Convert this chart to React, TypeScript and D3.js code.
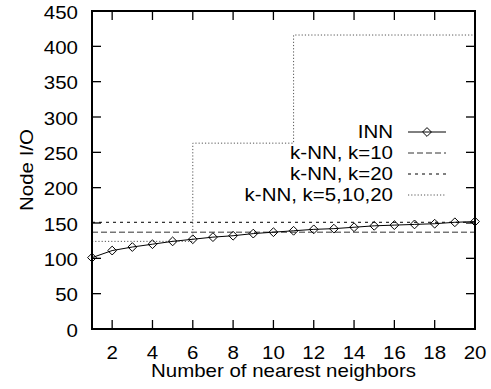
import { useEffect, useRef } from 'react'
import * as d3 from 'd3'

const neighbors = [1, 2, 3, 4, 5, 6, 7, 8, 9, 10, 11, 12, 13, 14, 15, 16, 17, 18, 19, 20]
const innIO = [101, 111, 116, 120, 124, 127, 130, 132, 135, 137, 139, 141, 142, 144, 146, 147, 148, 149, 151, 152]
const knn10IO = [137, 137]
const knn20IO = [151, 151]
const knnSpan = [1, 20]
// k-NN with k growing 5 -> 10 -> 20 (step line)
const knnStepX = [1, 6, 11, 20]
const knnStepIO = [124, 263, 416, 416]
const xTicks = [2, 4, 6, 8, 10, 12, 14, 16, 18, 20]
const yTicks = [0, 50, 100, 150, 200, 250, 300, 350, 400, 450]
const legendLabels = ['INN', 'k-NN, k=10', 'k-NN, k=20', 'k-NN, k=5,10,20']

const FONT = '"Liberation Sans", Arial, sans-serif'
const FS = 17.5
const SX = 1.17

export default function App() {
  const svgRef = useRef<SVGSVGElement>(null)

  useEffect(() => {
    if (!svgRef.current) return
    const svg = d3.select(svgRef.current)
    svg.selectAll('*').remove()

    const width = 491
    const height = 389
    const margin = { top: 11, right: 16, bottom: 60, left: 92 }

    const x = d3.scaleLinear().domain([1, 20]).range([margin.left, width - margin.right])
    const y = d3.scaleLinear().domain([0, 450]).range([height - margin.bottom, margin.top])
    const [x0, x1] = x.range()
    const [y0, y1] = y.range()

    svg.attr('width', width).attr('height', height)
    svg.append('rect').attr('width', width).attr('height', height).attr('fill', '#fff')

    const label = (tx: number, ty: number, s: string, anchor: string, rotate = 0) =>
      svg.append('text')
        .attr('transform', `translate(${tx},${ty}) rotate(${rotate}) scale(${SX},1)`)
        .attr('text-anchor', anchor)
        .attr('font-family', FONT)
        .attr('font-size', FS)
        .attr('fill', '#000')
        .text(s)

    // ticks (mirrored, pointing inward)
    const tickLen = 9
    const ticks = svg.append('g').attr('stroke', '#000').attr('stroke-width', 1.3)
    yTicks.forEach(v => {
      ticks.append('line').attr('x1', x0).attr('x2', x0 + tickLen).attr('y1', y(v)).attr('y2', y(v))
      ticks.append('line').attr('x1', x1).attr('x2', x1 - tickLen).attr('y1', y(v)).attr('y2', y(v))
      label(x0 - 14, y(v) + 7.5, String(v), 'end')
    })
    xTicks.forEach(v => {
      ticks.append('line').attr('x1', x(v)).attr('x2', x(v)).attr('y1', y0).attr('y2', y0 - tickLen)
      ticks.append('line').attr('x1', x(v)).attr('x2', x(v)).attr('y1', y1).attr('y2', y1 + tickLen)
      label(x(v), 358.5, String(v), 'middle')
    })

    // axis titles
    label((x0 + x1) / 2, 377, 'Number of nearest neighbors', 'middle')
    label(33, (y0 + y1) / 2, 'Node I/O', 'middle', -90)

    const line = d3.line<[number, number]>().x(d => x(d[0])).y(d => y(d[1]))

    // k-NN series
    const styles = [
      { pts: knnSpan.map((k, i) => [k, knn10IO[i]] as [number, number]), dash: '6,3', color: '#333', curve: d3.curveLinear },
      { pts: knnSpan.map((k, i) => [k, knn20IO[i]] as [number, number]), dash: '3,4', color: '#000', curve: d3.curveLinear },
      { pts: knnStepX.map((k, i) => [k, knnStepIO[i]] as [number, number]), dash: '1.2,2', color: '#555', curve: d3.curveStepAfter },
    ]
    styles.forEach(s => {
      svg.append('path')
        .attr('d', line.curve(s.curve)(s.pts))
        .attr('fill', 'none')
        .attr('stroke', s.color)
        .attr('stroke-width', 1)
        .attr('stroke-dasharray', s.dash)
    })
    line.curve(d3.curveLinear)

    // INN series
    const innPts = neighbors.map((k, i) => [k, innIO[i]] as [number, number])
    svg.append('path')
      .attr('d', line(innPts))
      .attr('fill', 'none')
      .attr('stroke', '#000')
      .attr('stroke-width', 1)
    const diamond = (cx: number, cy: number) =>
      svg.append('path')
        .attr('d', `M${cx},${cy - 4.4}L${cx + 4.4},${cy}L${cx},${cy + 4.4}L${cx - 4.4},${cy}Z`)
        .attr('fill', 'none')
        .attr('stroke', '#000')
        .attr('stroke-width', 1)
    innPts.forEach(d => diamond(x(d[0]), y(d[1])))

    // legend
    const lx0 = 408
    const lx1 = 446
    const rowY = [132, 153, 174, 195]
    legendLabels.forEach((t, i) => {
      label(393, rowY[i] + 6.3, t, 'end')
      const ln = svg.append('line')
        .attr('x1', lx0).attr('x2', lx1).attr('y1', rowY[i]).attr('y2', rowY[i])
        .attr('stroke-width', 1)
      if (i === 0) {
        ln.attr('stroke', '#000')
        diamond((lx0 + lx1) / 2, rowY[i])
      } else {
        ln.attr('stroke', styles[i - 1].color).attr('stroke-dasharray', styles[i - 1].dash)
      }
    })

    // plot border
    svg.append('rect')
      .attr('x', x0).attr('y', y1)
      .attr('width', x1 - x0).attr('height', y0 - y1)
      .attr('fill', 'none')
      .attr('stroke', '#000')
      .attr('stroke-width', 2)
  }, [])

  return <svg ref={svgRef} style={{ position: 'absolute', left: 0, top: 0, display: 'block' }} />
}
